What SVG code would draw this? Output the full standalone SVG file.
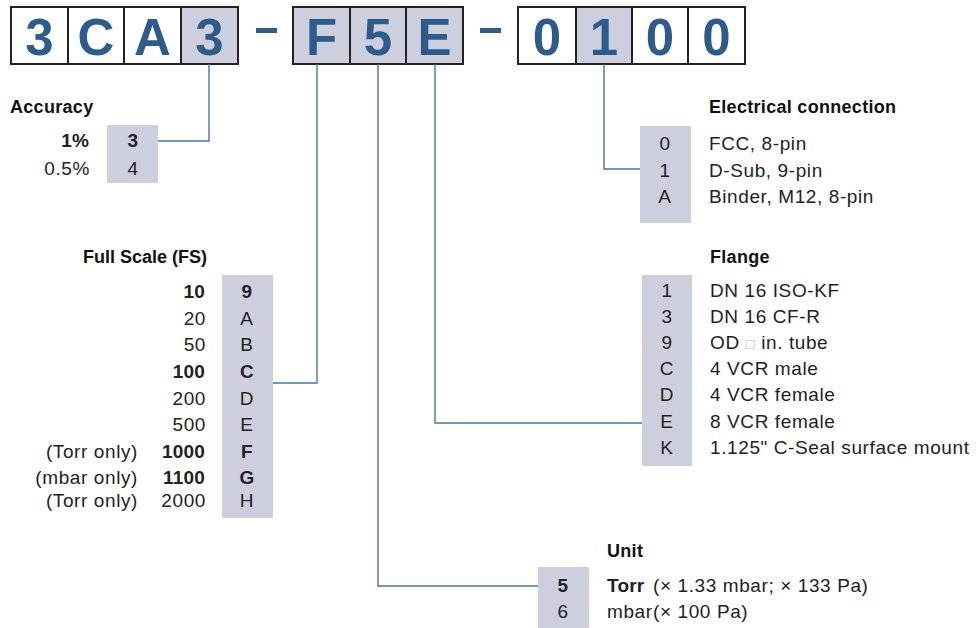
<svg xmlns="http://www.w3.org/2000/svg" width="978" height="628" viewBox="0 0 978 628">
<style>
.bx{stroke:#222;stroke-width:2}
.w{fill:#fff}
.g{fill:#cdcfde}
.big{font-family:"Liberation Sans",Arial,sans-serif;font-weight:bold;font-size:51px;fill:#2d5b8c;text-anchor:middle}
.t{font-family:"Liberation Sans",Arial,sans-serif;font-size:19px;fill:#222;letter-spacing:0.6px}
.b{font-weight:bold;letter-spacing:0.2px}
.h{font-family:"Liberation Sans",Arial,sans-serif;font-size:18px;font-weight:bold;fill:#111;letter-spacing:0.3px}
.m{text-anchor:middle}
.e{text-anchor:end}
.cb{fill:#cdcfde}
.con{fill:none;stroke:#4a71a6;stroke-width:1.4}
</style>
<g id="code">
<rect class="bx w" x="11" y="7" width="57" height="57"/>
<rect class="bx w" x="68" y="7" width="56" height="57"/>
<rect class="bx w" x="124" y="7" width="57" height="57"/>
<rect class="bx g" x="181" y="7" width="57" height="57"/>
<text class="big" x="39.5" y="55">3</text>
<text class="big" x="96" y="55">C</text>
<text class="big" x="152.5" y="55">A</text>
<text class="big" x="209.5" y="55">3</text>
<rect x="256" y="28" width="21" height="5" fill="#2d5b8c"/>
<rect class="bx g" x="293" y="7" width="57" height="57"/>
<rect class="bx g" x="350" y="7" width="56" height="57"/>
<rect class="bx g" x="406" y="7" width="57" height="57"/>
<text class="big" x="321.5" y="55">F</text>
<text class="big" x="378" y="55">5</text>
<text class="big" x="434.5" y="55">E</text>
<rect x="480" y="28" width="21" height="5" fill="#2d5b8c"/>
<rect class="bx w" x="518" y="7" width="58" height="57"/>
<rect class="bx g" x="576" y="7" width="56" height="57"/>
<rect class="bx w" x="632" y="7" width="56" height="57"/>
<rect class="bx w" x="688" y="7" width="57" height="57"/>
<text class="big" x="547" y="55">0</text>
<text class="big" x="604" y="55">1</text>
<text class="big" x="660" y="55">0</text>
<text class="big" x="716.5" y="55">0</text>
</g>
<g id="connectors">
<path class="con" d="M209,64 V141 H158"/>
<path class="con" d="M317,64 V383 H273"/>
<path class="con" d="M378,64 V586 H538"/>
<path class="con" d="M435,64 V423 H642"/>
<path class="con" d="M604,64 V169 H640"/>
</g>
<g id="accuracy">
<text class="h" x="10" y="113">Accuracy</text>
<rect class="cb" x="107" y="125" width="51" height="58"/>
<text class="t b e" x="89" y="147">1%</text>
<text class="t b m" x="133" y="147">3</text>
<text class="t e" x="90" y="175">0.5%</text>
<text class="t m" x="133" y="175">4</text>
</g>
<g id="fullscale">
<text class="h e" x="207" y="263" style="letter-spacing:0">Full Scale (FS)</text>
<rect class="cb" x="222" y="275" width="51" height="243"/>
<text class="t b e" x="205" y="298">10</text><text class="t b m" x="247" y="298">9</text>
<text class="t e" x="206" y="325">20</text><text class="t m" x="247" y="325">A</text>
<text class="t e" x="206" y="351">50</text><text class="t m" x="247" y="351">B</text>
<text class="t b e" x="205" y="378">100</text><text class="t b m" x="247" y="378">C</text>
<text class="t e" x="206" y="405">200</text><text class="t m" x="247" y="405">D</text>
<text class="t e" x="206" y="431">500</text><text class="t m" x="247" y="431">E</text>
<text class="t e" x="138" y="458">(Torr only)</text><text class="t b e" x="205" y="458">1000</text><text class="t b m" x="247" y="458">F</text>
<text class="t e" x="138" y="484">(mbar only)</text><text class="t b e" x="205" y="484">1100</text><text class="t b m" x="247" y="484">G</text>
<text class="t e" x="138" y="507">(Torr only)</text><text class="t e" x="206" y="507">2000</text><text class="t m" x="247" y="507">H</text>
</g>
<g id="electrical">
<text class="h" x="709" y="113">Electrical connection</text>
<rect class="cb" x="640" y="126" width="51" height="97"/>
<text class="t m" x="665" y="150">0</text><text class="t" x="709" y="150">FCC, 8-pin</text>
<text class="t m" x="665" y="177">1</text><text class="t" x="709" y="177">D-Sub, 9-pin</text>
<text class="t m" x="665" y="203">A</text><text class="t" x="709" y="203">Binder, M12, 8-pin</text>
</g>
<g id="flange">
<text class="h" x="710" y="263">Flange</text>
<rect class="cb" x="642" y="275" width="50" height="191"/>
<text class="t m" x="667" y="297">1</text><text class="t" x="710" y="297">DN 16 ISO-KF</text>
<text class="t m" x="667" y="323">3</text><text class="t" x="710" y="323">DN 16 CF-R</text>
<text class="t m" x="667" y="349">9</text><text class="t" x="710" y="349">OD <tspan font-size="15" fill="#b5b5b5">□</tspan> in. tube</text>
<text class="t m" x="667" y="375">C</text><text class="t" x="710" y="375">4 VCR male</text>
<text class="t m" x="667" y="401">D</text><text class="t" x="710" y="401">4 VCR female</text>
<text class="t m" x="667" y="428">E</text><text class="t" x="710" y="428">8 VCR female</text>
<text class="t m" x="667" y="454">K</text><text class="t" x="710" y="454">1.125" C-Seal surface mount</text>
</g>
<g id="unit">
<text class="h" x="607" y="557">Unit</text>
<rect class="cb" x="538" y="567" width="51" height="61"/>
<text class="t b m" x="563" y="592">5</text><text class="t" x="607" y="592"><tspan class="b">Torr</tspan><tspan x="653">(× 1.33 mbar; × 133 Pa)</tspan></text>
<text class="t m" x="563" y="618">6</text><text class="t" x="607" y="618">mbar<tspan x="653">(× 100 Pa)</tspan></text>
</g>
</svg>
